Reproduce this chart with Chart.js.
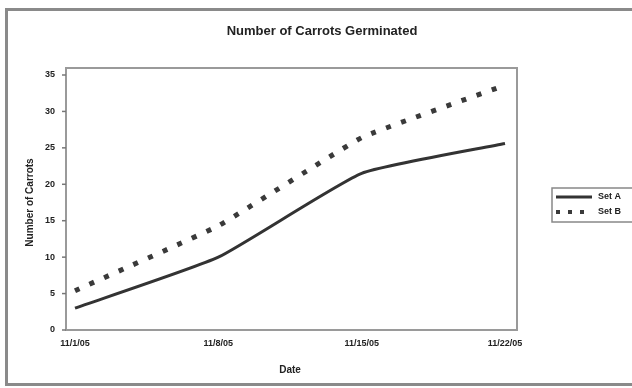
<!DOCTYPE html>
<html>
<head>
<meta charset="utf-8">
<script src="https://cdn.jsdelivr.net/npm/chart.js@4.4.0/dist/chart.umd.min.js"></script>
<style>
  html, body { margin: 0; padding: 0; background: #fff; overflow: hidden; width: 632px; height: 388px; }
  #wrap { width: 680px; height: 388px; filter: blur(0.6px); }
</style>
</head>
<body>
<div id="wrap"><canvas id="c" width="680" height="388"></canvas></div>
<script>
const categories = ["11/1/05", "11/8/05", "11/15/05", "11/22/05"];
const setA = [3, 10, 21.5, 25.6];
const setB = [5.4, 14.3, 26.4, 33.6];
const yTicks = [0, 5, 10, 15, 20, 25, 30, 35];
const seriesNames = ["Set A", "Set B"];
const chartTitle = 'Number of Carrots Germinated';

const ink = '#222';
const FONT = "'Liberation Sans', Arial, sans-serif";

const framePlugin = {
  id: 'frame',
  beforeDraw(chart) {
    const ctx = chart.ctx;
    ctx.save();
    ctx.fillStyle = '#fff';
    ctx.fillRect(0, 0, chart.width, chart.height);
    ctx.strokeStyle = '#8a8a8a';
    ctx.lineWidth = 3;
    ctx.strokeRect(6.5, 9.5, chart.width, 375);
    const a = chart.chartArea;
    const y = chart.scales.y;
    ctx.strokeStyle = '#9a9a9a';
    ctx.lineWidth = 2;
    ctx.strokeRect(a.left - 9, a.top - 7, (a.right - a.left) + 21, (a.bottom - a.top) + 7);
    ctx.lineWidth = 1.5;
    ctx.strokeStyle = '#777';
    yTicks.forEach(v => {
      const py = y.getPixelForValue(v);
      ctx.beginPath();
      ctx.moveTo(a.left - 13, py);
      ctx.lineTo(a.left - 9, py);
      ctx.stroke();
    });
    // title
    ctx.fillStyle = ink;
    ctx.font = "bold 13px " + FONT;
    ctx.textAlign = 'center';
    ctx.textBaseline = 'middle';
    ctx.fillText(chartTitle, 322, 31);
    ctx.restore();
  },
  afterDraw(chart) {
    const ctx = chart.ctx;
    ctx.save();
    const lx = 552, ly = 188, lw = 120, lh = 34;
    ctx.strokeStyle = '#888';
    ctx.lineWidth = 1.5;
    ctx.strokeRect(lx, ly, lw, lh);
    chart.data.datasets.forEach((ds, i) => {
      const yy = ly + 9 + i * 15;
      ctx.strokeStyle = ds.borderColor;
      ctx.lineWidth = i === 0 ? 3 : 4;
      ctx.setLineDash(i === 0 ? [] : [4, 8]);
      ctx.lineCap = 'butt';
      ctx.beginPath();
      ctx.moveTo(lx + 4, yy);
      ctx.lineTo(lx + 40, yy);
      ctx.stroke();
      ctx.setLineDash([]);
      ctx.fillStyle = ink;
      ctx.font = "bold 9px " + FONT;
      ctx.textBaseline = 'middle';
      ctx.fillText(ds.label, lx + 46, yy);
    });
    ctx.restore();
  }
};

new Chart(document.getElementById('c'), {
  type: 'line',
  data: {
    labels: categories,
    datasets: [
      { label: seriesNames[0], data: setA, borderColor: '#333', borderWidth: 3, pointRadius: 0, tension: 0.15, fill: false },
      { label: seriesNames[1], data: setB, borderColor: '#3a3a3a', borderWidth: 5, borderDash: [5, 11], pointRadius: 0, tension: 0.1, fill: false }
    ]
  },
  options: {
    responsive: false,
    animation: false,
    layout: { padding: { left: 20, right: 175, top: 75, bottom: 8 } },
    plugins: {
      legend: { display: false },
      tooltip: { enabled: false },
      title: { display: false }
    },
    scales: {
      x: {
        offset: false,
        grid: { display: false },
        border: { display: false },
        ticks: { color: ink, font: { family: FONT, size: 9, weight: 'bold' }, padding: 0, maxRotation: 0 },
        title: { display: true, text: 'Date', color: ink, font: { family: FONT, size: 10, weight: 'bold' }, padding: { top: 14 } },
        afterFit(s) { s.height = 50; }
      },
      y: {
        min: 0, max: 35,
        grid: { display: false },
        border: { display: false },
        afterBuildTicks(s) { s.ticks = yTicks.map(v => ({ value: v })); },
        ticks: { color: ink, font: { family: FONT, size: 9, weight: 'bold' }, padding: 12 },
        title: { display: true, text: 'Number of Carrots', color: ink, font: { family: FONT, size: 10, weight: 'bold' }, padding: { bottom: 4 } },
        afterFit(s) { s.width = 55; }
      }
    }
  },
  plugins: [framePlugin]
});
</script>
</body>
</html>
